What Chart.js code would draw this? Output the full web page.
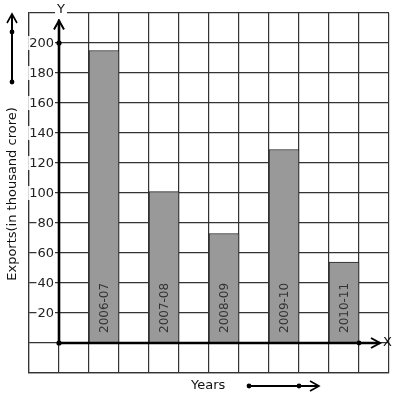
<!DOCTYPE html>
<html>
<head>
<meta charset="utf-8">
<script src="https://cdn.jsdelivr.net/npm/chart.js@4"></script>
<style>
  body { margin: 0; background: #fff; }
  canvas { display: block; }
</style>
</head>
<body>
<canvas id="myChart" width="397" height="399"></canvas>
<script>
const years = ["2006-07", "2007-08", "2008-09", "2009-10", "2010-11"];
const exportsData = [195, 101, 73, 129, 54];
const tickValues = [20, 40, 60, 80, 100, 120, 140, 160, 180, 200];

// graph paper has 12 columns; bars sit in every other column after the y axis
const columns = 12;
const labels = [];
const values = [];
for (let i = 0; i < columns; i++) {
  const k = (i - 2) / 2;
  if (i >= 2 && i % 2 === 0 && k < years.length) {
    labels.push(years[k]);
    values.push(exportsData[k]);
  } else {
    labels.push("");
    values.push(null);
  }
}

const FONT = "DejaVu Sans";

function dot(ctx, x, y, r) {
  ctx.beginPath();
  ctx.arc(x, y, r, 0, Math.PI * 2);
  ctx.fill();
}

const graphPaper = {
  id: "graphPaper",
  afterDatasetsDraw: (chart) => {
    const { ctx, scales } = chart;
    const x = scales.x;
    const y = scales.y;
    const x0 = (x.getPixelForValue(0) + x.getPixelForValue(1)) / 2;
    const y0 = y.getPixelForValue(0);

    ctx.save();
    ctx.fillStyle = "#111";
    ctx.strokeStyle = "#000";

    // bar labels, written upwards inside the bars
    ctx.font = "12px " + FONT;
    ctx.fillStyle = "#333";
    chart.getDatasetMeta(0).data.forEach((bar, i) => {
      if (values[i] === null) return;
      ctx.save();
      ctx.translate(bar.x, y0 - 10);
      ctx.rotate(-Math.PI / 2);
      ctx.textAlign = "left";
      ctx.textBaseline = "middle";
      ctx.fillText(labels[i], 0, 1);
      ctx.restore();
    });

    // y tick labels with white backdrop
    ctx.font = "13px " + FONT;
    ctx.textAlign = "right";
    ctx.textBaseline = "middle";
    tickValues.forEach((v) => {
      const py = y.getPixelForValue(v);
      const w = ctx.measureText(String(v)).width;
      ctx.fillStyle = "#fff";
      ctx.fillRect(x0 - 5 - w - 1, py - 7, w + 2, 14);
      ctx.fillStyle = "#222";
      ctx.fillText(String(v), x0 - 5, py + 1);
    });

    // y axis with arrow
    ctx.fillStyle = "#000";
    ctx.lineWidth = 2.6;
    const yTip = y.getPixelForValue(215);
    ctx.beginPath();
    ctx.moveTo(x0, y0);
    ctx.lineTo(x0, yTip);
    ctx.stroke();
    ctx.lineWidth = 2;
    ctx.beginPath();
    ctx.moveTo(x0 - 5, yTip + 9);
    ctx.lineTo(x0, yTip);
    ctx.lineTo(x0 + 5, yTip + 9);
    ctx.stroke();
    dot(ctx, x0, y.getPixelForValue(200), 2.6);
    dot(ctx, x0, y0, 2.6);

    // x axis with arrow
    const xTip = x.getPixelForValue(columns - 1) + 6;
    ctx.lineWidth = 2.6;
    ctx.beginPath();
    ctx.moveTo(x0, y0);
    ctx.lineTo(xTip, y0);
    ctx.stroke();
    ctx.lineWidth = 2;
    ctx.beginPath();
    ctx.moveTo(xTip - 9, y0 - 5);
    ctx.lineTo(xTip, y0);
    ctx.lineTo(xTip - 9, y0 + 5);
    ctx.stroke();
    dot(ctx, (x.getPixelForValue(columns - 2) + x.getPixelForValue(columns - 1)) / 2, y0, 2.4);

    // axis letters
    ctx.font = "13px " + FONT;
    ctx.textAlign = "center";
    ctx.textBaseline = "middle";
    const wY = ctx.measureText("Y").width;
    ctx.fillStyle = "#fff";
    ctx.fillRect(x0 + 2 - wY / 2 - 2, chart.chartArea.top - 6, wY + 4, 12);
    ctx.fillStyle = "#111";
    ctx.fillText("Y", x0 + 2, chart.chartArea.top - 3);
    ctx.textAlign = "left";
    ctx.fillText("X", xTip + 3, y0);

    // y axis title
    ctx.save();
    ctx.translate(13, 194);
    ctx.rotate(-Math.PI / 2);
    ctx.textAlign = "center";
    ctx.fillText("Exports(in thousand crore)", 0, 0);
    ctx.restore();

    // x axis title
    ctx.textAlign = "left";
    ctx.fillText("Years", 191, 386);

    // decorative arrows
    ctx.fillStyle = "#000";
    ctx.lineWidth = 2;
    ctx.beginPath();
    ctx.moveTo(249, 386);
    ctx.lineTo(319, 386);
    ctx.stroke();
    ctx.lineWidth = 1.6;
    ctx.beginPath();
    ctx.moveTo(310, 381);
    ctx.lineTo(319, 386);
    ctx.lineTo(310, 391);
    ctx.stroke();
    dot(ctx, 249, 386, 2.4);
    dot(ctx, 299, 386, 2.4);

    ctx.lineWidth = 2;
    ctx.beginPath();
    ctx.moveTo(12, 82);
    ctx.lineTo(12, 14);
    ctx.stroke();
    ctx.lineWidth = 1.6;
    ctx.beginPath();
    ctx.moveTo(7, 23);
    ctx.lineTo(12, 14);
    ctx.lineTo(17, 23);
    ctx.stroke();
    dot(ctx, 12, 32, 2.4);
    dot(ctx, 12, 82, 2.4);

    ctx.restore();
  },
};

new Chart(document.getElementById("myChart"), {
  type: "bar",
  data: {
    labels: labels,
    datasets: [
      {
        data: values,
        backgroundColor: "#999999",
        borderColor: "#222",
        borderWidth: 1,
        barPercentage: 1,
        categoryPercentage: 1,
      },
    ],
  },
  options: {
    responsive: false,
    animation: false,
    layout: { padding: { left: 29, top: 13, right: 8, bottom: 26 } },
    plugins: {
      legend: { display: false },
      tooltip: { enabled: false },
    },
    scales: {
      x: {
        type: "category",
        offset: true,
        grid: { offset: true, color: "#333", lineWidth: 1.2, drawTicks: false },
        border: { color: "#333", width: 1.2 },
        ticks: { display: false },
        afterFit: (s) => { s.height = 0; },
      },
      y: {
        min: -20,
        max: 220,
        ticks: { display: false, stepSize: 20 },
        grid: { color: "#333", lineWidth: 1.2, drawTicks: false },
        border: { color: "#333", width: 1.2 },
        afterFit: (s) => { s.width = 0; },
      },
    },
  },
  plugins: [graphPaper],
});
</script>
</body>
</html>
